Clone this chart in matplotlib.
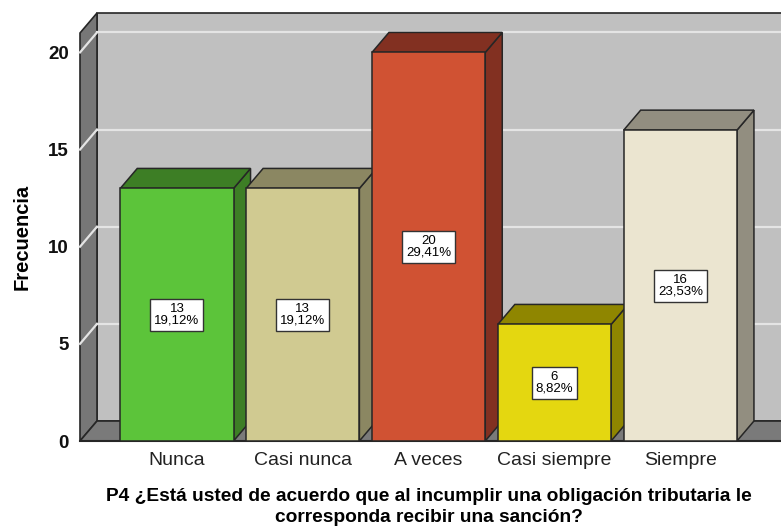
import matplotlib
matplotlib.use("Agg")
import matplotlib.pyplot as plt
from matplotlib.patches import Polygon

categories = ["Nunca", "Casi nunca", "A veces", "Casi siempre", "Siempre"]
counts = [13, 13, 20, 6, 16]
percents = ["19,12%", "19,12%", "29,41%", "8,82%", "23,53%"]
yticks = [0, 5, 10, 15, 20]
front_colors = ["#5CC43A", "#D0CA91", "#D05233", "#E4D710", "#EBE5D0"]
shade_colors = ["#3D7E25", "#8B8762", "#823021", "#8F8600", "#928E80"]
xlabel = "P4 ¿Está usted de acuerdo que al incumplir una obligación tributaria le\ncorresponda recibir una sanción?"
ylabel = "Frecuencia"

plt.rcParams['font.family'] = ['Liberation Sans', 'DejaVu Sans']

W, H = 781, 526
fig = plt.figure(figsize=(W / 100, H / 100), dpi=100)
left_px, bottom_px, top_px = 80, 441, 33
ax = fig.add_axes([left_px / W, (H - bottom_px) / H, (W - left_px) / W, (bottom_px - top_px) / H])
xmin, xmax = -0.77, 4.8
ymax = 21
ax.set_xlim(xmin, xmax)
ax.set_ylim(0, ymax)
for s in ax.spines.values():
    s.set_visible(False)
ax.patch.set_visible(False)

px_x = (W - left_px) / (xmax - xmin)
px_y = (bottom_px - top_px) / ymax
dx = 17 / px_x
dy = 20 / px_y
edge = "#262626"
xr = xmax + 0.5

# back wall
ax.add_patch(Polygon([(xmin + dx, dy), (xr, dy), (xr, ymax + dy), (xmin + dx, ymax + dy)],
                     closed=True, fc="#C0C0C0", ec=edge, lw=1.2, clip_on=False, zorder=1))
# left wall
ax.add_patch(Polygon([(xmin, 0), (xmin, ymax), (xmin + dx, ymax + dy), (xmin + dx, dy)],
                     closed=True, fc="#777777", ec=edge, lw=1.2, clip_on=False, zorder=1))
# floor
ax.add_patch(Polygon([(xmin, 0), (xmin + dx, dy), (xr, dy), (xr, 0)],
                     closed=True, fc="#7A7A7A", ec=edge, lw=1.2, clip_on=False, zorder=1))
# gridlines
for v in yticks[1:]:
    ax.plot([xmin + dx, xr], [v + dy, v + dy], color="#E4E4E4", lw=1.6, zorder=2, clip_on=False)
    ax.plot([xmin, xmin + dx], [v, v + dy], color="#E4E4E4", lw=1.6, zorder=2, clip_on=False)
ax.plot([xmin, xr], [0, 0], color=edge, lw=1.5, zorder=2, clip_on=False)

bw = 0.9
for i, (c, fcol, scol) in enumerate(zip(counts, front_colors, shade_colors)):
    x0, x1 = i - bw / 2, i + bw / 2
    z = 3 + i
    # side
    ax.add_patch(Polygon([(x1, 0), (x1 + dx, dy), (x1 + dx, c + dy), (x1, c)],
                         closed=True, fc=scol, ec=edge, lw=1.1, zorder=z, clip_on=False))
    # top
    ax.add_patch(Polygon([(x0, c), (x0 + dx, c + dy), (x1 + dx, c + dy), (x1, c)],
                         closed=True, fc=scol, ec=edge, lw=1.1, zorder=z, clip_on=False))
    # front
    ax.add_patch(Polygon([(x0, 0), (x1, 0), (x1, c), (x0, c)],
                         closed=True, fc=fcol, ec=edge, lw=1.1, zorder=z, clip_on=False))
    ax.text(i, c / 2, f"{c}\n{percents[i]}", ha="center", va="center", fontsize=9.5,
            multialignment="center", linespacing=1.0, zorder=20,
            bbox=dict(boxstyle="square,pad=0.3", fc="white", ec="#333333", lw=1))

ax.set_xticks(range(len(categories)))
ax.set_xticklabels(categories, fontsize=14)
ax.set_yticks(yticks)
ax.set_yticklabels([str(t) for t in yticks], fontsize=13.5, fontweight="bold")
ax.tick_params(axis="x", length=0, pad=8, colors="#222222")
ax.tick_params(axis="y", length=0, pad=8, colors="#111111")

fig.text(22 / W, 1 - 237 / H, ylabel, rotation=90, ha="center", va="center",
         fontsize=14.5, fontweight="bold")
fig.text(429 / W, 1 - 507 / H, xlabel, ha="center", va="center", fontsize=13.8,
         fontweight="bold", linespacing=1.25, multialignment="center")

fig.savefig("out.png", dpi=100)
